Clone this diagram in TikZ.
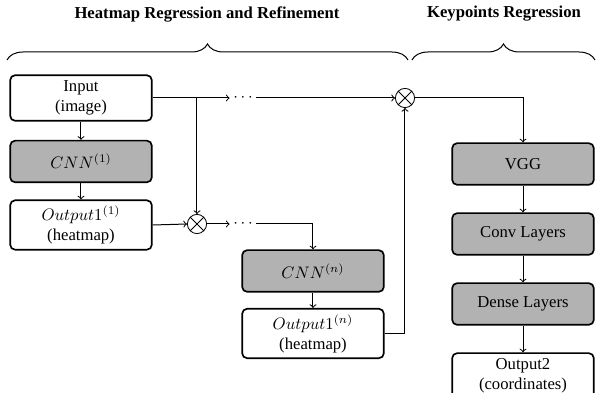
\documentclass[tikz,border=0pt]{standalone}
\usepackage{fontspec}
\setmainfont{Liberation Serif}
\usetikzlibrary{decorations.pathreplacing}

\definecolor{boxgray}{gray}{0.7}

\tikzset{
	block/.style={draw, line width=1pt, rounded corners=3pt, fill=white, minimum width=85pt, minimum height=25pt, align=center},
	grayblock/.style={block, fill=boxgray},
	mult/.style={circle, draw, line width=0.5pt, minimum size=11.5pt, inner sep=0pt,
		path picture={\draw[line width=0.5pt] (path picture bounding box.north west) -- (path picture bounding box.south east) (path picture bounding box.south west) -- (path picture bounding box.north east);}},
	dotsnode/.style={inner sep=2pt},
	heading/.style={font=\bfseries},
	bracket/.style={decorate, decoration={brace, amplitude=9.6pt}, line width=0.6pt},
	link/.style={->, line width=0.6pt}
}

\begin{document}
\begin{tikzpicture}[x=0.6pt, y=-0.6pt]
		\useasboundingbox (0,0) rectangle (597,393);

		% headings and braces
		\node[heading] (h1) at (207,14) {Heatmap Regression and Refinement};
		\node[heading] (h2) at (504,14) {Keypoints Regression};
		\draw[bracket] (7,60) -- (408,60);
		\draw[bracket] (412,60) -- (595,60);

		% first stage
		\node[block] (in) at (81,98) {Input\\(image)};
		\node[grayblock] (cnn1) at (81,161.5) {$CNN^{(1)}$};
		\node[block] (out1) at (81,225) {$Output1^{(1)}$\\(heatmap)};

		% n-th stage
		\node[grayblock] (cnnn) at (313,271) {$CNN^{(n)}$};
		\node[block] (outn) at (313,333.5) {$Output1^{(n)}$\\(heatmap)};

		\node[mult] (ot1) at (197,224) {};
		\node[mult] (ot2) at (405,98) {};
		\node[dotsnode] (d1) at (243,98) {$\cdots$};
		\node[dotsnode] (d2) at (243,224) {$\cdots$};

		% keypoints branch
		\node[grayblock] (vgg) at (523,164) {VGG};
		\node[grayblock] (conv) at (523,234) {Conv Layers};
		\node[grayblock] (dense) at (523,304) {Dense Layers};
		\node[block] (out2) at (523,376) {Output2\\(coordinates)};

		\draw[link] (in) -- (cnn1);
		\draw[link] (cnn1) -- (out1);
		\draw[link] (in.east) -- (d1.west);
		\draw[link] (d1.east) -- (ot2.west);
		\draw[link] (in.east -| ot1.north) -- (ot1.north);
		\draw[link] (out1.east) -- (ot1.west);
		\draw[link] (ot1.east) -- (d2.west);
		\draw[link] (d2.east) -| (cnnn.north);
		\draw[link] (cnnn) -- (outn);
		\draw[link] (outn.east) -| (ot2.south);
		\draw[link] (ot2.east) -| (vgg.north);
		\draw[link] (vgg) -- (conv);
		\draw[link] (conv) -- (dense);
		\draw[link] (dense) -- (out2);
	\end{tikzpicture}
\end{document}
